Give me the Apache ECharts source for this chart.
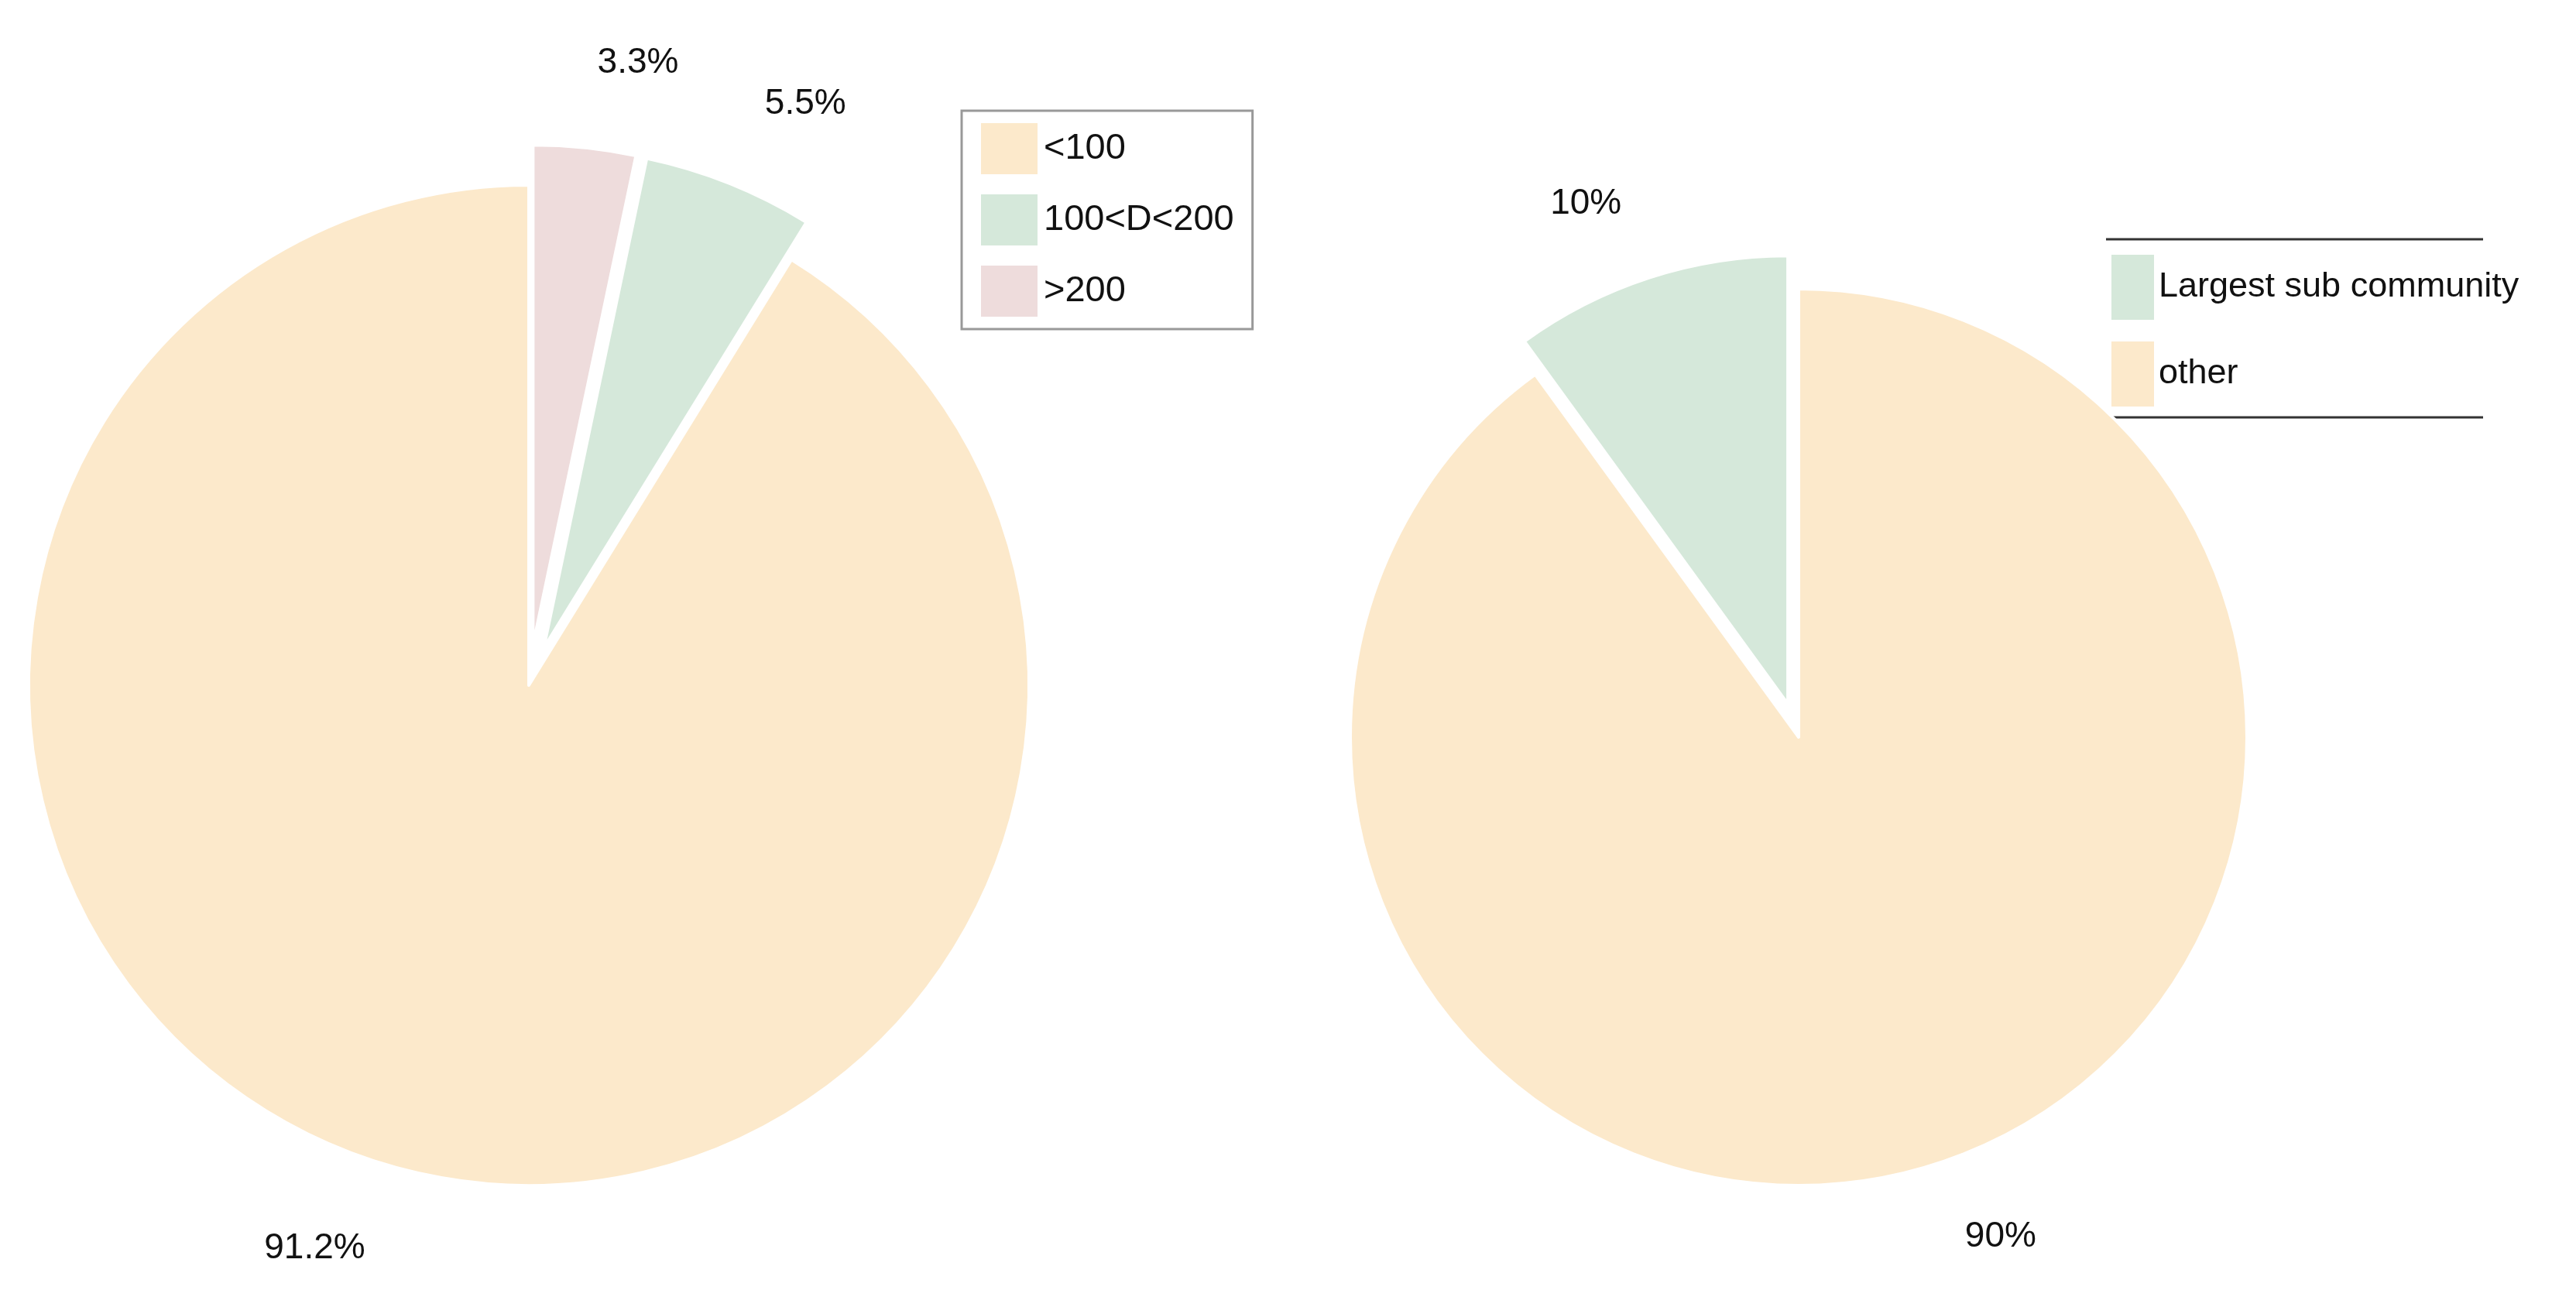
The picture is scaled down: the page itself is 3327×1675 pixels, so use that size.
<!DOCTYPE html>
<html><head><meta charset="utf-8">
<script src="https://cdn.jsdelivr.net/npm/echarts@6/dist/echarts.min.js"></script>
<style>html,body{margin:0;padding:0;background:#fff}#c{width:3327px;height:1675px}</style>
</head><body><div id="c"></div>
<script>
const leftNames = ['>200', '100<D<200', '<100'];
const leftValues = [3.3, 5.5, 91.2];
const leftExploded = [true, true, false];
const leftLegendOrder = ['<100', '100<D<200', '>200'];
const rightNames = ['other', 'Largest sub community'];
const rightValues = [90, 10];
const rightExploded = [false, true];
const rightLegendOrder = ['Largest sub community', 'other'];
const colorMap = {'<100':'#FCE9CB','100<D<200':'#D5E8DA','>200':'#EEDCDC','other':'#FCE9CB','Largest sub community':'#D5E8DA'};
const FONT = 'Liberation Sans, Arial, sans-serif';

function mk(names, vals, expl){
  return names.map((n,i)=>({name:n, value:vals[i], selected:expl[i], itemStyle:{color:colorMap[n]}}));
}
const labelCfg = fmt => ({show:true, position:'outside', formatter:fmt, fontSize:46, color:'#111', fontFamily:FONT});
const chart = echarts.init(document.getElementById('c'));
chart.setOption({
  animation:false,
  legend:[
    {data:leftLegendOrder, left:1242, top:143, orient:'vertical', selectedMode:false,
     itemWidth:75, itemHeight:68, itemGap:22, padding:[14,24,14,23],
     borderColor:'#999', borderWidth:3, icon:'rect',
     textStyle:{fontSize:47, fontFamily:FONT, color:'#111', padding:[0,0,0,2]}},
    {data:rightLegendOrder, left:2720, top:311, orient:'vertical', selectedMode:false,
     itemWidth:57, itemHeight:86, itemGap:24, padding:[16,0,16,5],
     icon:'rect', textStyle:{fontSize:45, fontFamily:FONT, color:'#111'}}
  ],
  graphic:[
    {type:'line', shape:{x1:2720,y1:309,x2:3207,y2:309}, style:{stroke:'#333',lineWidth:3}},
    {type:'line', shape:{x1:2720,y1:539,x2:3207,y2:539}, style:{stroke:'#333',lineWidth:3}}
  ],
  series:[
    {type:'pie', center:[683,885], radius:[0,646], startAngle:90, clockwise:true,
     selectedMode:'multiple', selectedOffset:52, avoidLabelOverlap:false,
     label:labelCfg(p=>p.value+'%'), labelLine:{show:false,length:110,length2:0},
     itemStyle:{borderColor:'#fff',borderWidth:4},
     emphasis:{disabled:true},
     data:mk(leftNames,leftValues,leftExploded)},
    {type:'pie', center:[2323,952], radius:[0,579], startAngle:90, clockwise:true,
     selectedMode:'multiple', selectedOffset:45, avoidLabelOverlap:false,
     label:labelCfg(p=>p.value+'%'), labelLine:{show:false,length:100,length2:0},
     itemStyle:{borderColor:'#fff',borderWidth:4},
     emphasis:{disabled:true},
     data:mk(rightNames,rightValues,rightExploded)}
  ]
});
</script></body></html>
